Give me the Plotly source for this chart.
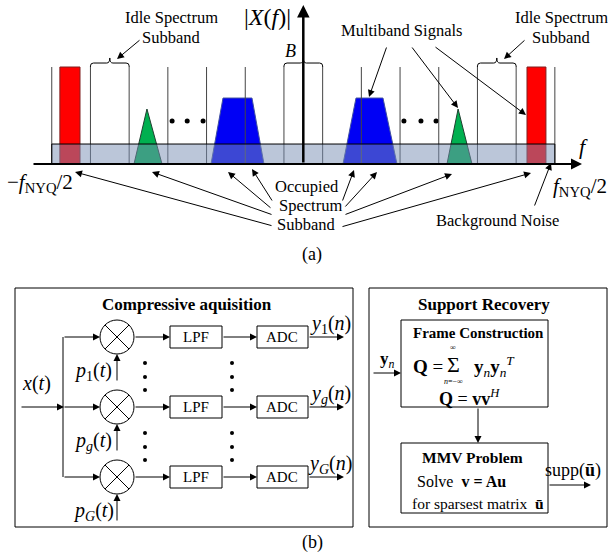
import plotly.graph_objects as go

W, H = 608, 556
SERIF = "Liberation Serif"

# ---------------- spectrum data (frequency in subband units, amplitude normalised) ----
subband_edges = [-6.5, -5.5, -4.5, -3.5, -2.5, -1.5, -0.5, 0.5, 1.5, 2.5, 3.5, 4.5, 5.5, 6.5]
idle_subbands = [-5, 0, 5]
noise_level = 0.206
red_bands = [[-6.29, -5.77], [5.78, 6.27]]
red_amp = 1.0
green_base = [[-4.375, -3.651], [3.713, 4.359]]
green_apex = [-4.04, 4.0]
green_amp = 0.567
blue_base = [[-2.385, -1.016], [1.026, 2.421]]
blue_top = [[-2.075, -1.326], [1.362, 2.059]]
blue_amp = 0.68
ellipsis_f = [-3.39, -3.0, -2.59, 2.6, 3.04, 3.43]
ellipsis_amp = 0.443

# pixel mapping of the spectrum axes
F0, FW = 303.3, 38.7     # pixel of f=0, pixels per subband
Y0, YS = 164.0, 97.0     # pixel of amplitude 0, pixels per unit amplitude
def fx(px): return (px - F0) / FW
def fy(py): return (Y0 - py) / YS

fig = go.Figure()

# signals
for lo, hi in red_bands:
    fig.add_trace(go.Scatter(x=[lo, lo, hi, hi, lo], y=[0, red_amp, red_amp, 0, 0], mode="lines",
                             fill="toself", fillcolor="#ff0000", line=dict(color="#802020", width=1),
                             hoverinfo="skip", showlegend=False))
for (lo, hi), ap in zip(green_base, green_apex):
    fig.add_trace(go.Scatter(x=[lo, ap, hi, lo], y=[0, green_amp, 0, 0], mode="lines",
                             fill="toself", fillcolor="#00b050", line=dict(color="#204030", width=1),
                             hoverinfo="skip", showlegend=False))
for (lo, hi), (tl, tr) in zip(blue_base, blue_top):
    fig.add_trace(go.Scatter(x=[lo, tl, tr, hi, lo], y=[0, blue_amp, blue_amp, 0, 0], mode="lines",
                             fill="toself", fillcolor="#0000f5", line=dict(color="#4050a0", width=1),
                             hoverinfo="skip", showlegend=False))
fig.add_trace(go.Scatter(x=ellipsis_f, y=[ellipsis_amp] * len(ellipsis_f), mode="markers",
                         marker=dict(color="black", size=5), hoverinfo="skip", showlegend=False))
# dummy trace for the pixel axes
fig.add_trace(go.Scatter(x=[0], y=[0], xaxis="x2", yaxis="y2", mode="markers",
                         marker=dict(size=1, opacity=0), hoverinfo="skip", showlegend=False))

shapes = []
annotations = []

# subband lines
for e in subband_edges:
    shapes.append(dict(type="line", xref="x", yref="y", x0=e, x1=e, y0=0, y1=1.0,
                       line=dict(color="#444444", width=1)))
# noise band
shapes.append(dict(type="rect", xref="x", yref="y", x0=subband_edges[0], x1=subband_edges[-1],
                   y0=0, y1=noise_level, fillcolor="rgba(119,142,180,0.5)",
                   line=dict(color="black", width=1)))
# braces over idle subbands
lvl, tip, r = 1.041, 1.093, 0.08
for c in idle_subbands:
    l, rr = c - 0.5, c + 0.5
    p = (f"M {l},1.0 L {l},{lvl-0.03} Q {l},{lvl} {l+r},{lvl} L {c-r},{lvl} "
         f"Q {c},{lvl} {c},{tip} Q {c},{lvl} {c+r},{lvl} L {rr-r},{lvl} "
         f"Q {rr},{lvl} {rr},{lvl-0.03} L {rr},1.0")
    shapes.append(dict(type="path", xref="x", yref="y", path=p, line=dict(color="black", width=1)))

def txt(x, y, s, size=15, xanchor="center", **kw):
    annotations.append(dict(x=x, y=y, xref="x2", yref="y2", text=s, showarrow=False,
                            font=dict(size=size, family=SERIF, color="black"),
                            xanchor=xanchor, yanchor="middle", **kw))

def arrow(x0, y0, x1, y1, width=1, size=1.4, xref="x2", yref="y2"):
    annotations.append(dict(x=x1, y=y1, xref=xref, yref=yref, ax=x0, ay=y0, axref=xref, ayref=yref,
                            showarrow=True, arrowhead=2, arrowsize=size, arrowwidth=width,
                            arrowcolor="black", text="", standoff=0, startstandoff=0,
                            font=dict(size=10, family=SERIF)))

def line(x0, y0, x1, y1, width=1, color="black"):
    shapes.append(dict(type="line", xref="x2", yref="y2", x0=x0, y0=y0, x1=x1, y1=y1,
                       line=dict(color=color, width=width)))

def rect(x0, y0, x1, y1, width=1):
    shapes.append(dict(type="rect", xref="x2", yref="y2", x0=x0, y0=y0, x1=x1, y1=y1,
                       line=dict(color="black", width=width), fillcolor="rgba(0,0,0,0)"))

# axes of the spectrum
arrow(fx(32), 0, fx(582), 0, width=2, size=1.1, xref="x", yref="y")
arrow(0, 0, 0, fy(5), width=2.5, size=1.0, xref="x", yref="y")

# spectrum labels
txt(267, 17, "|<i>X</i>(<i>f</i>)|", size=24)
txt(290, 51, "<i>B</i>", size=18)
txt(583, 146, "<i>f</i>", size=22)
txt(40, 183, "−<i>f</i><sub>NYQ</sub>/2", size=21)
txt(580, 187, "<i>f</i><sub>NYQ</sub>/2", size=21)
txt(171, 17, "Idle Spectrum", size=16.5)
txt(171, 37, "Subband", size=16.5)
arrow(141, 39, 117, 59)
txt(561, 17, "Idle Spectrum", size=16.5)
txt(561, 37, "Subband", size=16.5)
arrow(526, 39, 504, 59)
txt(401, 30, "Multiband Signals", size=16.5)
arrow(387, 46, 369, 97)
arrow(411, 46, 458, 108)
arrow(434, 46, 526, 115)
txt(307, 186, "Occupied", size=16.5)
txt(310, 205, "Spectrum", size=16.5)
txt(306, 224, "Subband", size=16.5)
arrow(273, 226, 75, 172)
arrow(273, 215, 152, 172)
arrow(272, 209, 228, 172)
arrow(273, 202, 252, 169)
arrow(342, 202, 354, 170)
arrow(344, 208, 377, 172)
arrow(344, 215, 452, 174)
arrow(341, 227, 531, 173)
txt(497, 220, "Background Noise", size=16.5)
arrow(534, 207, 551, 163)
txt(312, 254, "(a)", size=18)

# ---------------- panel (b) ----------------
rect(15, 288, 353, 527)
rect(369, 288, 607, 527)
txt(187, 304, "<b>Compressive aquisition</b>", size=17)
txt(484, 304, "<b>Support Recovery</b>", size=17)

rows = [337, 407, 477]
sub_y = ["1", "g", "G"]
MX, MR = 117, 17
line(63, rows[0], 63, rows[-1])
arrow(20, 407, 64, 407)
txt(36, 383, "<i>x</i>(<i>t</i>)", size=20)
for ry, s in zip(rows, sub_y):
    arrow(63, ry, MX - MR, ry)
    shapes.append(dict(type="circle", xref="x2", yref="y2", x0=MX - MR, x1=MX + MR,
                       y0=ry - MR, y1=ry + MR, line=dict(color="black", width=1)))
    d = MR * 0.707
    line(MX - d, ry - d, MX + d, ry + d)
    line(MX - d, ry + d, MX + d, ry - d)
    arrow(MX, ry + 45, MX, ry + MR)
    sub = "1" if s == "1" else f"<i>{s}</i>"
    txt(93, ry + 34, f"<i>p</i><sub>{sub}</sub>(<i>t</i>)", size=20)
    arrow(MX + MR, ry, 170, ry)
    rect(170, ry - 11, 222, ry + 11)
    txt(196, ry, "LPF", size=15)
    arrow(222, ry, 257, ry)
    rect(257, ry - 11, 308, ry + 11)
    txt(282, ry, "ADC", size=15)
    arrow(308, ry, 344, ry)
    txt(330, ry - 13, f"<i>y</i><sub>{sub}</sub>(<i>n</i>)", size=20)
for cx in [145, 232]:
    for dy in [363, 377, 390, 433, 447, 460]:
        shapes.append(dict(type="circle", xref="x2", yref="y2", x0=cx - 2, x1=cx + 2,
                           y0=dy - 2, y1=dy + 2, fillcolor="black", line=dict(width=0)))

# support recovery
rect(401, 320, 548, 407)
txt(478, 333, "<b>Frame Construction</b>", size=15)
txt(428, 366, "<b>Q</b> =", size=19)
txt(453, 364, "Σ", size=22)
txt(453, 347, "∞", size=8)
txt(453, 381, "<i>n</i>=−∞", size=8)
txt(494, 366, "<b>y</b><sub><i>n</i></sub><b>y</b><sub><i>n</i></sub><sup><i>T</i></sup>", size=19)
txt(469, 397, "<b>Q</b> = <b>vv</b><sup><i>H</i></sup>", size=18)
arrow(372, 373, 401, 373)
txt(387, 360, "<b>y</b><sub><i>n</i></sub>", size=17)
arrow(478, 407, 478, 443)
rect(401, 443, 548, 513)
txt(472, 457, "<b>MMV Problem</b>", size=15.5)
txt(461, 481, "Solve  <b>v = Au</b>", size=16)
txt(478, 503, "for sparsest matrix  <b>ū</b>", size=15.5)
arrow(548, 485, 591, 485)
txt(573, 470, "supp(<b>ū</b>)", size=18)
txt(312, 542, "(b)", size=18)

fig.update_layout(
    width=W, height=H, margin=dict(l=0, r=0, t=0, b=0),
    paper_bgcolor="white", plot_bgcolor="white",
    xaxis=dict(range=[fx(0), fx(W)], visible=False, fixedrange=True),
    yaxis=dict(range=[fy(H), fy(0)], visible=False, fixedrange=True),
    xaxis2=dict(range=[0, W], visible=False, overlaying="x", fixedrange=True),
    yaxis2=dict(range=[H, 0], visible=False, overlaying="y", fixedrange=True),
    shapes=shapes, annotations=annotations, showlegend=False,
)
fig.write_html("out.html")
